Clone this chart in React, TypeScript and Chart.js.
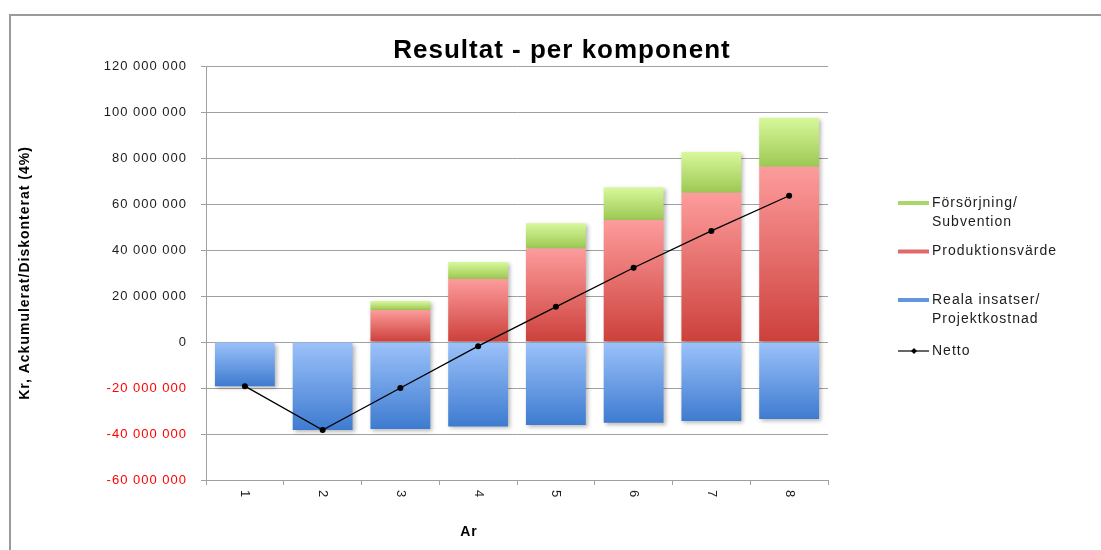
import React, { useEffect, useRef } from 'react';
import { Chart, registerables } from 'chart.js';

Chart.register(...registerables);

const years = ['1', '2', '3', '4', '5', '6', '7', '8'];
const forsorjning = [0, 0, 3900000, 7400000, 10900000, 14300000, 17700000, 21300000];
const produktionsvarde = [0, 0, 13900000, 27400000, 40700000, 53000000, 64900000, 76200000];
const realaInsatser = [-19200000, -38300000, -37800000, -36700000, -36100000, -35100000, -34300000, -33500000];
const netto = [-19200000, -38300000, -20000000, -1800000, 15300000, 32300000, 48300000, 63600000];
const yMin = -60000000;
const yMax = 120000000;
const yStep = 20000000;
const chartTitle = 'Resultat - per komponent';
const yTitle = 'Kr, Ackumulerat/Diskonterat (4%)';
const xTitle = 'Ar';
const legendLabels = [['Försörjning/', 'Subvention'], ['Produktionsvärde'], ['Reala insatser/', 'Projektkostnad'], ['Netto']];

const FONT = '"Liberation Sans", Arial, sans-serif';

const zeros = years.map(() => 0);
const greenBase = produktionsvarde;
const greenTop = produktionsvarde.map((v, i) => v + forsorjning[i]);

const barGradient = (top: string, bottom: string, from: number[], to: number[]) => (ctx: any) => {
  const chart = ctx.chart;
  const ys = chart.scales && chart.scales.y;
  const i = ctx.dataIndex;
  if (!ys || !chart.chartArea || i === undefined) return bottom;
  const a = ys.getPixelForValue(from[i]);
  const b = ys.getPixelForValue(to[i]);
  const y0 = Math.min(a, b);
  const y1 = Math.max(a, b);
  if (!isFinite(y0) || !isFinite(y1) || y1 - y0 < 1) return bottom;
  const g = chart.ctx.createLinearGradient(0, y0, 0, y1);
  g.addColorStop(0, top);
  g.addColorStop(1, bottom);
  return g;
};

const fmt = (v: number) => {
  const s = Math.abs(v).toFixed(0).replace(/\B(?=(\d{3})+(?!\d))/g, ' ');
  return (v < 0 ? '-' : '') + s;
};

const decor = {
  id: 'decor',
  beforeDraw(chart: any) {
    const c = chart.ctx;
    c.save();
    c.fillStyle = '#ffffff';
    c.fillRect(0, 0, chart.width, chart.height);
    c.fillStyle = '#9a9a9a';
    c.fillRect(9, 14, chart.width - 9, 2);
    c.fillRect(9, 14, 2, chart.height - 14);
    c.restore();
    c.letterSpacing = '1px';
  },
  beforeDatasetDraw(chart: any, args: any) {
    if (args.meta.type === 'bar') {
      const c = chart.ctx;
      c.save();
      c.shadowColor = 'rgba(0,0,0,0.28)';
      c.shadowBlur = 4;
      c.shadowOffsetX = 2;
      c.shadowOffsetY = 2;
    }
  },
  afterDatasetDraw(chart: any, args: any) {
    if (args.meta.type === 'bar') chart.ctx.restore();
  },
  afterDraw(chart: any) {
    const c = chart.ctx;
    const xs = chart.scales.x;
    c.save();
    c.letterSpacing = '1px';
    // title
    c.fillStyle = '#000';
    c.font = `bold 26px ${FONT}`;
    c.textAlign = 'center';
    c.textBaseline = 'alphabetic';
    c.fillText(chartTitle, 562, 58);
    // x tick labels, rotated clockwise
    c.font = `13px ${FONT}`;
    c.fillStyle = '#1c1c1c';
    years.forEach((lab, i) => {
      const x = xs.getPixelForValue(i);
      c.save();
      c.translate(x, 490);
      c.rotate(Math.PI / 2);
      c.textAlign = 'left';
      c.textBaseline = 'middle';
      c.fillText(lab, 0, 0);
      c.restore();
    });
    // x title
    c.font = `bold 14px ${FONT}`;
    c.fillStyle = '#000';
    c.textAlign = 'center';
    c.textBaseline = 'middle';
    c.fillText(xTitle, 469, 532);
    // legend
    const colors = ['#a8d86c', '#e06a6a', '#6097e0'];
    const ys = [203, 251.5, 300, 351];
    c.font = `14px ${FONT}`;
    c.textAlign = 'left';
    c.textBaseline = 'middle';
    legendLabels.forEach((lines, k) => {
      const y = ys[k];
      if (k < 3) {
        c.fillStyle = colors[k];
        c.fillRect(898, y - 2, 31, 4);
      } else {
        c.strokeStyle = '#333';
        c.lineWidth = 1.5;
        c.beginPath();
        c.moveTo(898, y);
        c.lineTo(929, y);
        c.stroke();
        c.fillStyle = '#000';
        c.beginPath();
        c.moveTo(914, y - 3);
        c.lineTo(917, y);
        c.lineTo(914, y + 3);
        c.lineTo(911, y);
        c.closePath();
        c.fill();
      }
      c.fillStyle = '#1c1c1c';
      lines.forEach((t, j) => c.fillText(t, 932, y + j * 19.5));
    });
    c.restore();
  },
};

export default function App() {
  const ref = useRef<HTMLCanvasElement | null>(null);
  useEffect(() => {
    if (!ref.current) return;
    const chart = new Chart(ref.current, {
      type: 'bar',
      data: {
        labels: years,
        datasets: [
          {
            type: 'line',
            label: 'Netto',
            data: netto,
            borderColor: '#000',
            borderWidth: 1.3,
            pointRadius: 3,
            pointBackgroundColor: '#000',
            pointBorderColor: '#000',
            pointBorderWidth: 0,
            tension: 0,
            stack: 'netto',
            order: 0,
          } as any,
          {
            label: 'Reala insatser/Projektkostnad',
            data: realaInsatser,
            backgroundColor: barGradient('#9cc2fa', '#3e7bd0', zeros, realaInsatser),
            borderWidth: 0,
            stack: 'bars',
            order: 1,
          },
          {
            label: 'Produktionsvärde',
            data: produktionsvarde,
            backgroundColor: barGradient('#fd9c9c', '#cc403b', zeros, produktionsvarde),
            borderWidth: 0,
            stack: 'bars',
            order: 1,
          },
          {
            label: 'Försörjning/Subvention',
            data: forsorjning,
            backgroundColor: barGradient('#d8f89c', '#9cc852', greenBase, greenTop),
            borderWidth: 0,
            stack: 'bars',
            order: 1,
          },
        ],
      },
      options: {
        responsive: false,
        animation: false,
        events: [],
        layout: { padding: { left: 0, right: 273, top: 66, bottom: 0 } },
        plugins: {
          legend: { display: false },
          title: { display: false },
          tooltip: { enabled: false },
        },
        datasets: { bar: { barPercentage: 0.77, categoryPercentage: 1 } },
        scales: {
          x: {
            stacked: true,
            offset: true,
            ticks: { display: false },
            grid: {
              offset: true,
              drawOnChartArea: false,
              drawTicks: true,
              tickLength: 5,
              color: '#a0a0a0',
            },
            border: { display: true, color: '#a0a0a0' },
            afterFit: (s: any) => {
              s.height = 70;
            },
          },
          y: {
            stacked: true,
            min: yMin,
            max: yMax,
            ticks: {
              stepSize: yStep,
              padding: 14,
              font: { family: FONT, size: 13 },
              color: (c: any) => (c.tick && c.tick.value < 0 ? '#ff0000' : '#1c1c1c'),
              callback: (v: any) => fmt(Number(v)),
            },
            grid: { color: '#a0a0a0', tickLength: 5, drawTicks: true },
            border: { display: true, color: '#a0a0a0' },
            title: {
              display: true,
              text: yTitle,
              color: '#000',
              font: { family: FONT, size: 14, weight: 'bold' },
              padding: { top: 17, bottom: 0 },
            },
            afterFit: (s: any) => {
              s.width = 206;
            },
          },
        },
      },
      plugins: [decor],
    } as any);
    return () => chart.destroy();
  }, []);
  return (
    <div style={{ position: 'absolute', left: 0, top: 0, width: 1101, height: 550 }}>
      <canvas ref={ref} width={1101} height={550} style={{ display: 'block' }} />
    </div>
  );
}
